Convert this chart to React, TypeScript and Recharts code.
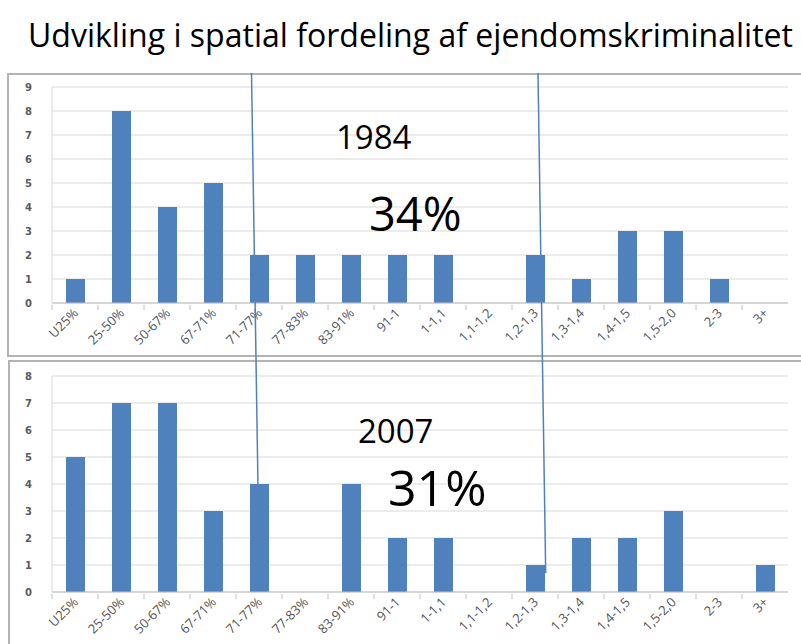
import { BarChart, Bar, XAxis, YAxis, CartesianGrid } from "recharts";

const categories = [
  "U25%", "25-50%", "50-67%", "67-71%", "71-77%", "77-83%", "83-91%", "91-1",
  "1-1,1", "1,1-1,2", "1,2-1,3", "1,3-1,4", "1,4-1,5", "1,5-2,0", "2-3", "3+",
];
const values1984 = [1, 8, 4, 5, 2, 2, 2, 2, 2, 0, 2, 1, 3, 3, 1, 0];
const values2007 = [5, 7, 7, 3, 4, 0, 4, 2, 2, 0, 1, 2, 2, 3, 0, 1];
const ticks1984 = [0, 1, 2, 3, 4, 5, 6, 7, 8, 9];
const ticks2007 = [0, 1, 2, 3, 4, 5, 6, 7, 8];

const title = "Udvikling i spatial fordeling af ejendomskriminalitet";
const BLUE = "#4f81bd";

const rows1984 = categories.map((c, i) => ({ name: c, value: values1984[i] }));
const rows2007 = categories.map((c, i) => ({ name: c, value: values2007[i] }));

function renderCatTick(props: any) {
  const { x, y, payload } = props;
  const half = payload && payload.offset ? payload.offset : 23;
  return (
    <g key={`t-${payload.value}`} transform={`translate(${x},${y})`}>
      <line x1={-half} x2={-half} y1={0} y2={5} stroke="#bfbfbf" />
      <g transform="translate(4,9)">
        <text
          x={0}
          y={0}
          transform="rotate(-45)"
          textAnchor="end"
          fontSize={13}
          fontFamily="'Open Sans', sans-serif"
          fill="#555"
        >
          {payload.value}
        </text>
      </g>
    </g>
  );
}

function Panel({ data, ticks, max, height, margin, xHeight }: any) {
  return (
    <BarChart width={794} height={height} data={data} margin={margin}>
      <CartesianGrid vertical={false} stroke="#d9d9d9" />
      <XAxis
        dataKey="name"
        interval={0}
        height={xHeight}
        stroke="#bfbfbf"
        tickLine={false}
        tickSize={0}
        tick={renderCatTick}
      />
      <YAxis
        width={30}
        domain={[0, max]}
        ticks={ticks}
        stroke="#d9d9d9"
        tickLine={false}
        tickSize={0}
        tickMargin={20}
        tick={{ fill: "#5a5a5a", fontSize: 10, fontWeight: "bold", fontFamily: "'DejaVu Sans', sans-serif" }}
      />
      <Bar dataKey="value" fill={BLUE} barSize={19} isAnimationActive={false} />
    </BarChart>
  );
}

export default function App() {
  return (
    <div style={{ position: "absolute", left: 0, top: 0, width: 801, height: 644, overflow: "hidden", background: "#fff" }}>
      <div style={{ position: "absolute", left: 7, top: 73, width: 820, height: 284, border: "2px solid #b3b3b3", boxSizing: "border-box" }} />
      <div style={{ position: "absolute", left: 8, top: 360, width: 820, height: 300, border: "2px solid #b3b3b3", boxSizing: "border-box" }} />
      <div style={{ position: "absolute", left: 7, top: 73 }}>
        <Panel data={rows1984} ticks={ticks1984} max={9} height={286}
          margin={{ top: 14, right: 13, left: 15, bottom: 0 }} xHeight={56} />
      </div>
      <div style={{ position: "absolute", left: 8, top: 360 }}>
        <Panel data={rows2007} ticks={ticks2007} max={8} height={284}
          margin={{ top: 16, right: 14, left: 14, bottom: 0 }} xHeight={52} />
      </div>
      <svg width={801} height={644} style={{ position: "absolute", left: 0, top: 0, pointerEvents: "none" }}>
        <text x={28} y={47} fontSize={32} fontFamily="'Open Sans', sans-serif" fill="#000"
          textLength={765} lengthAdjust="spacingAndGlyphs">{title}</text>
        <text x={336} y={149} fontSize={33} fontFamily="'Open Sans', sans-serif" fill="#000">1984</text>
        <text x={369} y={231} fontSize={47} fontFamily="'Open Sans', sans-serif" fill="#000">34%</text>
        <text x={358} y={443} fontSize={33} fontFamily="'Open Sans', sans-serif" fill="#000">2007</text>
        <text x={388} y={506} fontSize={50} fontFamily="'Open Sans', sans-serif" fill="#000">31%</text>
        <line x1={251.5} y1={73} x2={258} y2={487} stroke={BLUE} strokeWidth={1.5} />
        <line x1={538} y1={73} x2={545.7} y2={573} stroke={BLUE} strokeWidth={1.5} />
      </svg>
    </div>
  );
}
